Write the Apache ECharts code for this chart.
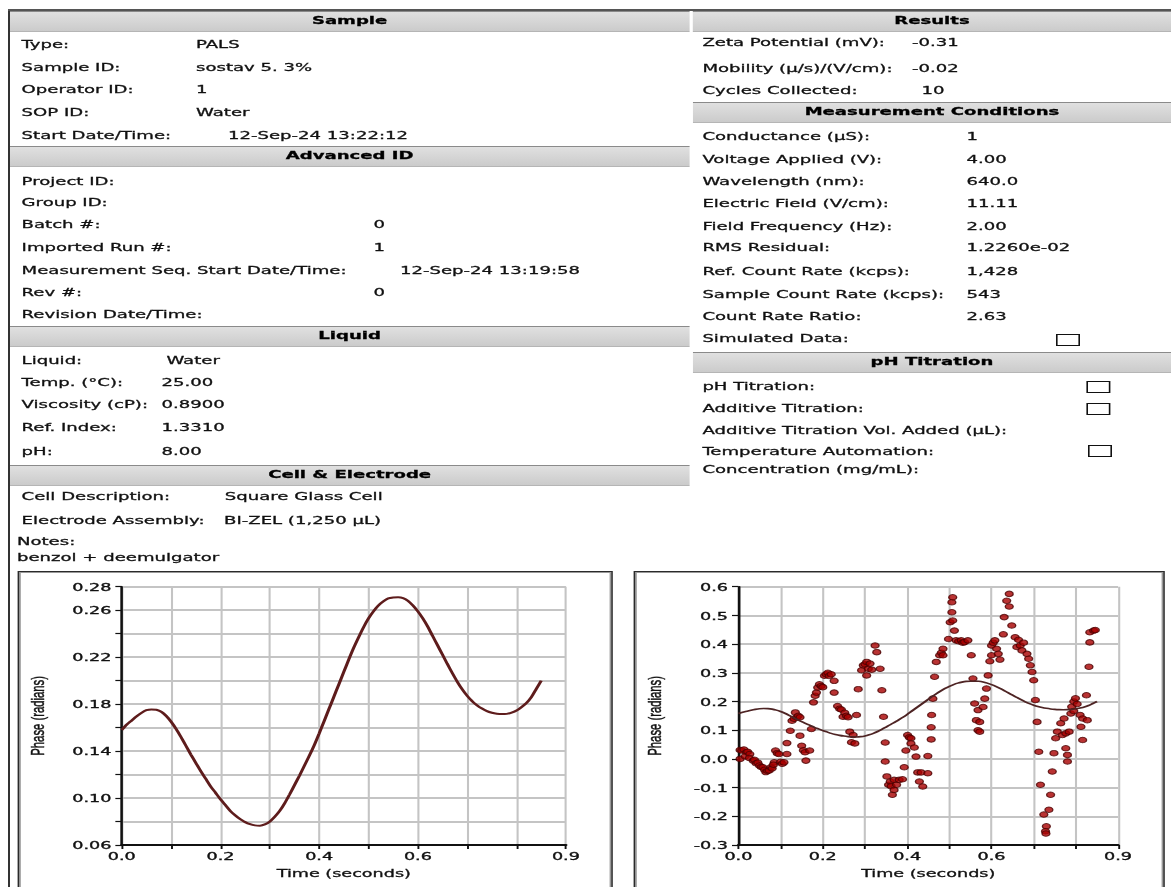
<!DOCTYPE html>
<html>
<head>
<meta charset="utf-8">
<script src="https://cdn.jsdelivr.net/npm/echarts@6/dist/echarts.min.js"></script>
<style>
html,body{margin:0;padding:0;background:#fff;overflow:hidden;width:1171px;height:887px;}
#page{position:absolute;left:0;top:0;width:732px;height:887px;transform:scaleX(1.6);transform-origin:0 0;}
.t{position:absolute;font-family:'DejaVu Sans',Verdana,sans-serif;font-size:11.3px;line-height:14px;color:#111;white-space:nowrap;-webkit-text-stroke:0.3px #111;}
.bar{position:absolute;height:19px;background:linear-gradient(#e0e0e0,#cbcbcb);border-top:1px solid #8a8a8a;border-bottom:1px solid #b5b5b5;}
.bar span{position:absolute;left:0;right:0;top:2px;text-align:center;font-family:'DejaVu Sans',Verdana,sans-serif;font-weight:bold;font-size:11.3px;line-height:14px;color:#000;-webkit-text-stroke:0.3px #000;}
.cb{position:absolute;width:13px;height:10px;border:1.3px solid #111;background:#fff;}
.box{position:absolute;border:1.6px solid #2a2a2a;box-shadow:inset 0 0 0 1px #999;height:340px;}
#chart{position:absolute;left:0;top:565px;width:732px;height:322px;}
</style>
</head>
<body>
<div id="page">
  <!-- frame -->
  <div style="position:absolute;left:4.5px;top:9px;width:1.4px;height:900px;background:#333"></div>
  <div style="position:absolute;left:4.5px;top:9px;width:728px;height:2px;background:#555"></div>

  <!-- left column -->
  <div class="bar" style="left:6px;width:425px;top:11px;"><span>Sample</span></div>
  <div class="t" style="left:13.5px;top:38px">Type:</div><div class="t" style="left:122.5px;top:38px">PALS</div>
  <div class="t" style="left:13.5px;top:60.5px">Sample ID:</div><div class="t" style="left:122.5px;top:60.5px">sostav 5. 3%</div>
  <div class="t" style="left:13.5px;top:83px">Operator ID:</div><div class="t" style="left:122.5px;top:83px">1</div>
  <div class="t" style="left:13.5px;top:106px">SOP ID:</div><div class="t" style="left:122.5px;top:106px">Water</div>
  <div class="t" style="left:13.5px;top:128.5px">Start Date/Time:</div><div class="t" style="left:142.5px;top:128.5px">12-Sep-24 13:22:12</div>

  <div class="bar" style="left:6px;width:425px;top:146px;"><span>Advanced ID</span></div>
  <div class="t" style="left:13.5px;top:174.5px">Project ID:</div>
  <div class="t" style="left:13.5px;top:196px">Group ID:</div>
  <div class="t" style="left:13.5px;top:218px">Batch #:</div><div class="t" style="left:233.5px;top:218px">0</div>
  <div class="t" style="left:13.5px;top:241px">Imported Run #:</div><div class="t" style="left:233.5px;top:241px">1</div>
  <div class="t" style="left:13.5px;top:264px">Measurement Seq. Start Date/Time:</div><div class="t" style="left:250px;top:264px">12-Sep-24 13:19:58</div>
  <div class="t" style="left:13.5px;top:286px">Rev #:</div><div class="t" style="left:233.5px;top:286px">0</div>
  <div class="t" style="left:13.5px;top:308px">Revision Date/Time:</div>

  <div class="bar" style="left:6px;width:425px;top:326px;"><span>Liquid</span></div>
  <div class="t" style="left:13.5px;top:353.5px">Liquid:</div><div class="t" style="left:104px;top:353.5px">Water</div>
  <div class="t" style="left:13.5px;top:376px">Temp. (°C):</div><div class="t" style="left:101px;top:376px">25.00</div>
  <div class="t" style="left:13.5px;top:398px">Viscosity (cP):</div><div class="t" style="left:101px;top:398px">0.8900</div>
  <div class="t" style="left:13.5px;top:421px">Ref. Index:</div><div class="t" style="left:101px;top:421px">1.3310</div>
  <div class="t" style="left:13.5px;top:445px">pH:</div><div class="t" style="left:101px;top:445px">8.00</div>

  <div class="bar" style="left:6px;width:425px;top:465px;"><span>Cell &amp; Electrode</span></div>
  <div class="t" style="left:13.5px;top:490px">Cell Description:</div><div class="t" style="left:140.5px;top:490px">Square Glass Cell</div>
  <div class="t" style="left:13.5px;top:514px">Electrode Assembly:</div><div class="t" style="left:140px;top:514px">BI-ZEL (1,250 µL)</div>
  <div class="t" style="left:10.6px;top:535px">Notes:</div>
  <div class="t" style="left:10.6px;top:551px">benzol + deemulgator</div>

  <!-- right column -->
  <div class="bar" style="left:433px;width:299px;top:11px;"><span>Results</span></div>
  <div class="t" style="left:439px;top:36px">Zeta Potential (mV):</div><div class="t" style="left:570px;top:36px">-0.31</div>
  <div class="t" style="left:439px;top:61.5px">Mobility (µ/s)/(V/cm):</div><div class="t" style="left:570px;top:61.5px">-0.02</div>
  <div class="t" style="left:439px;top:84px">Cycles Collected:</div><div class="t" style="left:576px;top:84px">10</div>

  <div class="bar" style="left:433px;width:299px;top:102px;"><span>Measurement Conditions</span></div>
  <div class="t" style="left:439px;top:130px">Conductance (µS):</div><div class="t" style="left:604px;top:130px">1</div>
  <div class="t" style="left:439px;top:153px">Voltage Applied (V):</div><div class="t" style="left:604px;top:153px">4.00</div>
  <div class="t" style="left:439px;top:175px">Wavelength (nm):</div><div class="t" style="left:604px;top:175px">640.0</div>
  <div class="t" style="left:439px;top:197px">Electric Field (V/cm):</div><div class="t" style="left:604px;top:197px">11.11</div>
  <div class="t" style="left:439px;top:220px">Field Frequency (Hz):</div><div class="t" style="left:604px;top:220px">2.00</div>
  <div class="t" style="left:439px;top:241px">RMS Residual:</div><div class="t" style="left:604px;top:241px">1.2260e-02</div>
  <div class="t" style="left:439px;top:265px">Ref. Count Rate (kcps):</div><div class="t" style="left:604px;top:265px">1,428</div>
  <div class="t" style="left:439px;top:288px">Sample Count Rate (kcps):</div><div class="t" style="left:604px;top:288px">543</div>
  <div class="t" style="left:439px;top:310px">Count Rate Ratio:</div><div class="t" style="left:604px;top:310px">2.63</div>
  <div class="t" style="left:439px;top:332px">Simulated Data:</div><div class="cb" style="left:660px;top:334px"></div>

  <div class="bar" style="left:433px;width:299px;top:352px;"><span>pH Titration</span></div>
  <div class="t" style="left:439px;top:380px">pH Titration:</div><div class="cb" style="left:679px;top:381px"></div>
  <div class="t" style="left:439px;top:402px">Additive Titration:</div><div class="cb" style="left:679px;top:403px"></div>
  <div class="t" style="left:439px;top:424px">Additive Titration Vol. Added (µL):</div>
  <div class="t" style="left:439px;top:445px">Temperature Automation:</div><div class="cb" style="left:680px;top:445px"></div>
  <div class="t" style="left:439px;top:463px">Concentration (mg/mL):</div>

  <!-- chart boxes -->
  <div class="box" style="left:10.6px;top:570.5px;width:370px;"></div>
  <div class="box" style="left:396px;top:571px;width:330px;"></div>

  <div id="chart"></div>
</div>
<script>
// ---- data ----
const xTickLabels = ['0.0','0.2','0.4','0.6','0.9'];
const yLeftTickLabels = ['0.06','0.10','0.14','0.18','0.22','0.26','0.28'];
const yRightTickLabels = ['-0.3','-0.2','-0.1','0.0','0.1','0.2','0.3','0.4','0.5','0.6'];

const fitTime = [0.00,0.01,0.02,0.03,0.04,0.05,0.06,0.07,0.08,0.09,0.10,0.11,0.12,0.13,0.14,0.15,0.16,0.17,0.18,0.19,0.20,0.21,0.22,0.23,0.24,0.25,0.26,0.27,0.28,0.29,0.30,0.31,0.32,0.33,0.34,0.35,0.36,0.37,0.38,0.39,0.40,0.41,0.42,0.43,0.44,0.45,0.46,0.47,0.48,0.49,0.50,0.51,0.52,0.53,0.54,0.55,0.56,0.57,0.58,0.59,0.60,0.61,0.62,0.63,0.64,0.65,0.66,0.67,0.68,0.69,0.70,0.71,0.72,0.73,0.74,0.75,0.76,0.77,0.78,0.79,0.80,0.81,0.82,0.83,0.84,0.85];
const fitPhase = [0.158,0.1625,0.166,0.1695,0.1725,0.1748,0.1755,0.1752,0.1735,0.170,0.165,0.159,0.152,0.1445,0.137,0.130,0.123,0.1165,0.110,0.1045,0.099,0.094,0.089,0.0853,0.082,0.0795,0.0777,0.0767,0.0765,0.0775,0.080,0.084,0.089,0.0955,0.103,0.111,0.119,0.1275,0.136,0.145,0.155,0.1655,0.176,0.1865,0.197,0.2075,0.218,0.228,0.237,0.2455,0.253,0.259,0.264,0.2675,0.270,0.2708,0.271,0.2703,0.268,0.264,0.259,0.253,0.246,0.238,0.230,0.222,0.214,0.2063,0.199,0.1925,0.187,0.1825,0.179,0.1762,0.174,0.1726,0.1718,0.1715,0.1717,0.1727,0.1745,0.1775,0.181,0.186,0.193,0.200];

const scatterTime = [0.004,0.004,0.008,0.013,0.019,0.016,0.022,0.027,0.026,0.035,0.038,0.042,0.046,0.050,0.054,0.058,0.062,0.065,0.069,0.073,0.077,0.080,0.085,0.083,0.088,0.092,0.096,0.100,0.104,0.108,0.115,0.115,0.123,0.127,0.132,0.135,0.138,0.142,0.146,0.146,0.150,0.154,0.158,0.160,0.169,0.173,0.178,0.182,0.185,0.188,0.192,0.196,0.200,0.204,0.208,0.212,0.215,0.220,0.227,0.227,0.235,0.240,0.244,0.248,0.252,0.256,0.260,0.264,0.268,0.272,0.276,0.280,0.284,0.292,0.296,0.300,0.304,0.304,0.308,0.312,0.316,0.324,0.328,0.336,0.340,0.344,0.348,0.348,0.352,0.356,0.360,0.362,0.365,0.369,0.369,0.375,0.381,0.389,0.393,0.397,0.401,0.405,0.409,0.409,0.417,0.421,0.425,0.429,0.433,0.437,0.449,0.449,0.457,0.457,0.458,0.461,0.465,0.469,0.477,0.481,0.485,0.485,0.498,0.502,0.506,0.506,0.508,0.508,0.512,0.516,0.522,0.528,0.532,0.536,0.544,0.552,0.556,0.560,0.564,0.568,0.568,0.572,0.572,0.580,0.584,0.588,0.592,0.596,0.600,0.600,0.604,0.608,0.612,0.616,0.620,0.628,0.630,0.636,0.642,0.642,0.648,0.656,0.664,0.660,0.668,0.672,0.676,0.684,0.688,0.692,0.696,0.700,0.704,0.708,0.712,0.716,0.724,0.730,0.728,0.729,0.736,0.740,0.744,0.748,0.752,0.756,0.764,0.768,0.772,0.776,0.776,0.780,0.780,0.784,0.788,0.790,0.795,0.799,0.803,0.795,0.810,0.812,0.816,0.816,0.825,0.827,0.831,0.833,0.833,0.842,0.846];
const scatterPhase = [0.000,0.031,0.029,0.033,0.023,0.009,0.025,0.017,0.003,-0.006,-0.003,-0.015,-0.013,-0.023,-0.028,-0.029,-0.038,-0.046,-0.042,-0.040,-0.029,-0.033,-0.012,-0.020,0.029,0.020,0.017,-0.010,-0.017,-0.012,0.017,0.055,0.098,0.133,0.140,0.162,0.145,0.150,0.145,0.081,0.046,0.030,0.023,-0.006,0.029,0.104,0.197,0.220,0.231,0.249,0.260,0.254,0.250,0.290,0.295,0.300,0.289,0.295,0.272,0.231,0.184,0.175,0.172,0.147,0.161,0.150,0.145,0.095,0.058,0.083,0.054,0.153,0.243,0.309,0.326,0.330,0.338,0.291,0.314,0.332,0.311,0.395,0.372,0.314,0.239,0.147,0.057,-0.009,-0.061,-0.090,-0.079,-0.095,-0.125,-0.108,-0.073,-0.090,-0.073,-0.071,-0.029,0.029,0.083,0.075,0.072,0.054,0.040,0.008,-0.047,-0.079,-0.047,-0.096,-0.050,0.010,0.068,0.110,0.153,0.210,0.286,0.338,0.361,0.370,0.384,0.361,0.418,0.476,0.511,0.546,0.563,0.482,0.447,0.413,0.410,0.413,0.405,0.407,0.413,0.361,0.280,0.193,0.135,0.170,0.100,0.129,0.095,0.181,0.210,0.245,0.291,0.340,0.395,0.361,0.405,0.413,0.384,0.366,0.346,0.434,0.494,0.551,0.575,0.531,0.465,0.424,0.415,0.390,0.395,0.378,0.405,0.366,0.349,0.326,0.303,0.274,0.205,0.129,0.025,-0.090,-0.194,-0.235,-0.252,-0.260,-0.177,-0.125,-0.044,0.020,0.072,0.095,0.124,0.083,0.141,0.089,0.037,0.014,-0.009,0.095,0.158,0.182,0.200,0.211,0.191,0.167,0.153,0.112,0.141,0.066,0.222,0.135,0.321,0.406,0.441,0.447,0.449];

// ---- build ----
const fitData = fitTime.map((t, i) => [t, fitPhase[i]]);
const scatterData = scatterTime.map((t, i) => [t, scatterPhase[i]]);

const tickFont = {fontFamily: "'DejaVu Sans', Verdana, sans-serif", fontSize: 11, color: '#111',
  textBorderColor: '#111', textBorderWidth: 0.35};

function xAxisCfg(gridIndex) {
  return {
    type: 'value', gridIndex, min: 0, max: 0.9, interval: 0.1,
    name: 'Time (seconds)', nameLocation: 'middle', nameGap: 22,
    nameTextStyle: {fontFamily: "'DejaVu Sans', Verdana, sans-serif", fontSize: 11, color: '#111',
      textBorderColor: '#111', textBorderWidth: 0.3},
    axisLine: {show: true, onZero: false, lineStyle: {color: '#111', width: 2}},
    axisTick: {show: true, length: 4, lineStyle: {color: '#111', width: 1.2}},
    axisLabel: Object.assign({margin: 5, showMaxLabel: true, showMinLabel: true,
      formatter: v => { const s = v.toFixed(1); return xTickLabels.includes(s) ? s : ''; }}, tickFont),
    splitLine: {show: true, lineStyle: {color: '#c4c4c4', width: 1.3}}
  };
}
function yAxisCfg(gridIndex, min, max, interval, labels, digits) {
  return {
    type: 'value', gridIndex, min, max, interval,
    name: 'Phase (radians)', nameLocation: 'middle', nameGap: 47, nameRotate: 90,
    nameTextStyle: {fontFamily: "'Liberation Sans', Arial, sans-serif", fontSize: 11.3, color: '#111',
      textBorderColor: '#111', textBorderWidth: 0.3},
    axisLine: {show: true, onZero: false, lineStyle: {color: '#111', width: 1.6}},
    axisTick: {show: true, length: 4, lineStyle: {color: '#111', width: 1.2}},
    axisLabel: Object.assign({margin: 6.5, showMaxLabel: true, showMinLabel: true,
      formatter: v => { let s = v.toFixed(digits); if (s === '-0.0') s = '0.0'; return labels.includes(s) ? s : ''; }}, tickFont),
    splitLine: {show: true, lineStyle: {color: '#c4c4c4', width: 2}}
  };
}

const chart = echarts.init(document.getElementById('chart'), null, {renderer: 'svg'});
chart.setOption({
  animation: false,
  backgroundColor: 'transparent',
  grid: [
    {left: 76.1, top: 21.7, width: 277.6, height: 258.3},
    {left: 461.5, top: 21.7, width: 237.3, height: 258.3}
  ],
  xAxis: [xAxisCfg(0), xAxisCfg(1)],
  yAxis: [
    yAxisCfg(0, 0.06, 0.28, 0.02, yLeftTickLabels, 2),
    yAxisCfg(1, -0.3, 0.6, 0.1, yRightTickLabels, 1)
  ],
  series: [
    {type: 'line', xAxisIndex: 0, yAxisIndex: 0, data: fitData, smooth: 0.25, showSymbol: false,
     lineStyle: {color: '#5e1c1c', width: 2}},
    {type: 'line', xAxisIndex: 1, yAxisIndex: 1, data: fitData, smooth: 0.25, showSymbol: false,
     lineStyle: {color: '#4e2424', width: 1.6}},
    {type: 'scatter', xAxisIndex: 1, yAxisIndex: 1, data: scatterData, symbol: 'circle', symbolSize: [5, 5.5],
     itemStyle: {color: '#a80000', borderColor: '#4a0000', borderWidth: 0.9}}
  ]
});
</script>
</body>
</html>
